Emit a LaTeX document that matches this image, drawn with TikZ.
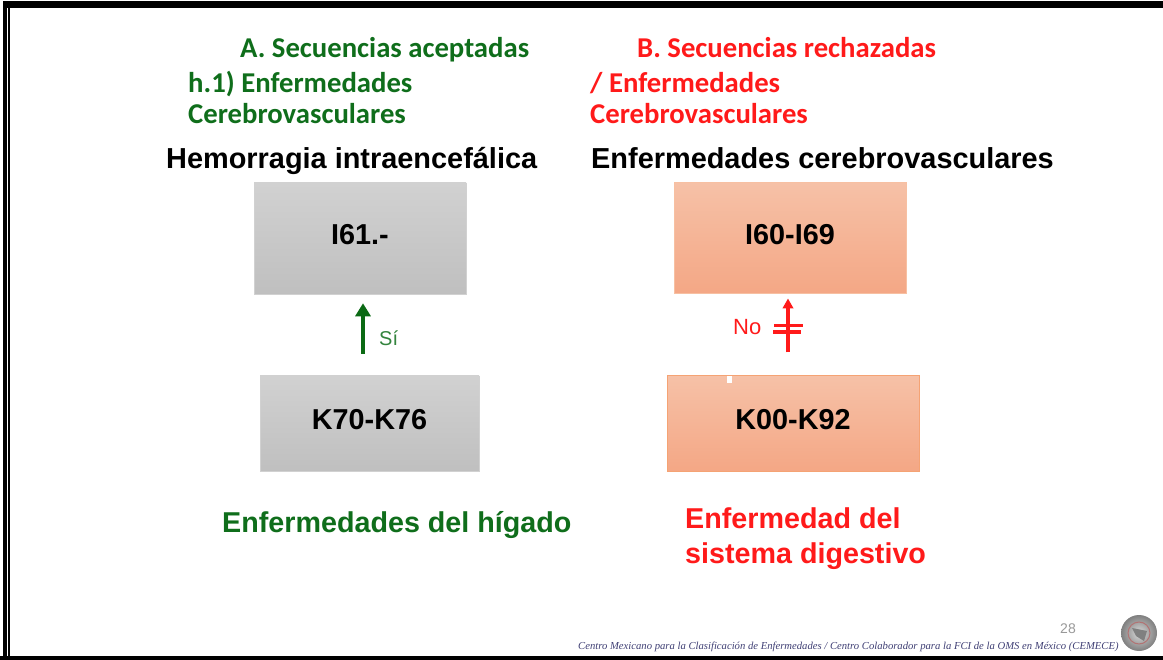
\documentclass[tikz,border=0pt]{standalone}
\usepackage{fontspec}
\setmainfont{Liberation Sans}
\newfontfamily\carl{Carlito}
\newfontfamily\serifit{Liberation Serif}
\usetikzlibrary{arrows.meta,calc}
\definecolor{dgreen}{HTML}{0F6E1B}
\definecolor{dred}{HTML}{FF1A1A}
\definecolor{arrgreen}{HTML}{0B6A14}
\definecolor{boxtop}{HTML}{F6C1A7}
\definecolor{boxbot}{HTML}{F4A785}
\definecolor{boxline}{HTML}{F5A374}
\definecolor{boxlinelt}{HTML}{F7C0A2}
\tikzset{
 x=1pt,y=-1pt,
 head/.style={inner sep=0,anchor=base west,font=\carl\bfseries\fontsize{28.7}{32}\selectfont},
 title/.style={inner sep=0,anchor=base west,text=black,font=\bfseries\fontsize{28.9}{33}\selectfont},
 big/.style={inner sep=0,anchor=base west,align=left,font=\bfseries\fontsize{28.7}{34.5}\selectfont},
 boxtext/.style={inner sep=0,font=\bfseries\fontsize{28.8}{33}\selectfont},
 graybox/.style={boxtext,draw=black!18,line width=0.6pt,top color=black!18,bottom color=black!25},
 orangebox/.style={boxtext,line width=1pt,top color=boxtop,bottom color=boxbot},
 small/.style={inner sep=0,font=\fontsize{20}{24}\selectfont},
}
\begin{document}
\begin{tikzpicture}
\useasboundingbox (0,0) rectangle (1163,660);
\fill[white] (0,0) rectangle (1163,660);
% frame
\fill[black] (3,1) rectangle (1163,8);
\fill[black] (0,655.5) rectangle (1163,660);
\fill[black] (3,1) rectangle (6.5,660);
\fill[black] (8,1) rectangle (10,660);
% headings
\node[head,text=dgreen] (ha) at (240,58) {A. Secuencias aceptadas};
\node[head,text=dgreen] (hb) at (188,93) {h.1) Enfermedades};
\node[head,text=dgreen] (hc) at (188,124) {Cerebrovasculares};
\node[head,text=dred] (ra) at (637,58) {B. Secuencias rechazadas};
\node[head,text=dred] (rb) at (590,93) {/ Enfermedades};
\node[head,text=dred] (rc) at (590,124) {Cerebrovasculares};
\node[title] (t1) at (166,169) {Hemorragia intraencefálica};
\node[title] (t2) at (591,169) {Enfermedades cerebrovasculares};
% boxes
\node[graybox,minimum width=212,minimum height=111] (i61) at (360,238.5) {\raisebox{8pt}{I61.-}};
\node[graybox,minimum width=219,minimum height=95] (k70) at (369.5,423.5) {\raisebox{8pt}{K70-K76}};
\node[orangebox,draw=boxlinelt,minimum width=232,minimum height=111] (i60) at (790,238.5) {\raisebox{8pt}{I60-I69}};
\node[orangebox,draw=boxline,minimum width=252,minimum height=95] (k00) at (793,423.5) {\raisebox{8pt}{K00-K92}};
\fill[white] (727,376) rectangle (732,383);
% arrows
\draw[line width=4pt,arrgreen,-{Triangle[length=13pt,width=15pt]},shorten <=22pt,shorten >=9pt]
  ([xshift=-6.5pt]k70.north) -- ([xshift=3pt]i61.south);
\node[small,text=dgreen!85!white,anchor=base west] (si) at (379,346) {Sí};
\draw[line width=3.4pt,dred,-{Triangle[length=10pt,width=10.5pt]},shorten <=23pt,shorten >=4pt]
  ([xshift=-5pt]k00.north) -- ([xshift=-2pt]i60.south);
\coordinate (tk1) at (788,325.5);
\coordinate (tk2) at (788,332);
\draw[line width=3.2pt,dred] ([xshift=-14pt]tk1) -- ([xshift=15pt]tk1);
\draw[line width=3.2pt,dred] ([xshift=-15pt]tk2) -- ([xshift=13pt]tk2);
\node[small,text=dred,anchor=base west,font=\fontsize{22}{26}\selectfont] (no) at (733,335) {No};
% bottom labels
\node[big,text=dgreen] (lh) at (222,532) {Enfermedades del hígado};
\node[big,text=dred,anchor=north west] (ld) at (685,508) {Enfermedad del\\sistema digestivo};
% footer
\node[inner sep=0,anchor=base,text=black!40,font=\fontsize{14}{16}\selectfont] (pg) at (1068,633) {28};
\node[inner sep=0,anchor=base west,text=black!20!blue!35!black!75,font=\serifit\itshape\fontsize{10.66}{12}\selectfont] (ft) at (578,649) {Centro Mexicano para la Clasificación de Enfermedades / Centro Colaborador para la FCI de la OMS en México (CEMECE)};
\shade[inner color=black!15,outer color=black!50] (1139,633) circle (18);
\draw[red!45!black!55,line width=1pt] (1139,633) circle (11);
\fill[black!50] (1132,628) -- (1147,631) -- (1144,641) -- (1136,636) -- cycle;
\end{tikzpicture}
\end{document}
